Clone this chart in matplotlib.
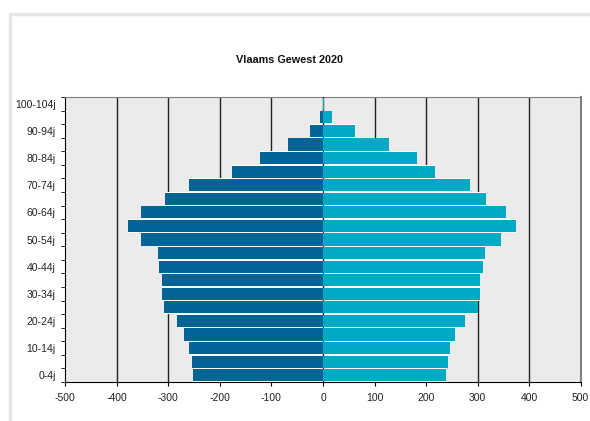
import numpy as np
import matplotlib.pyplot as plt
from matplotlib.patches import Rectangle

plt.rcParams['font.family'] = ['Liberation Sans', 'DejaVu Sans']

age_groups = ['0-4j', '5-9j', '10-14j', '15-19j', '20-24j', '25-29j', '30-34j',
              '35-39j', '40-44j', '45-49j', '50-54j', '55-59j', '60-64j', '65-69j',
              '70-74j', '75-79j', '80-84j', '85-89j', '90-94j', '95-99j', '100-104j']

# in duizendtallen, mannen links (negatief), vrouwen rechts
men = [-252, -254, -260, -270, -283, -308, -312, -312, -318, -320, -353,
       -378, -353, -306, -260, -176, -122, -68, -26, -6, -0.6]
women = [239, 242, 246, 256, 275, 301, 305, 305, 310, 314, 345,
         374, 355, 316, 285, 217, 182, 128, 62, 17.5, 1]

x_ticks = [-500, -400, -300, -200, -100, 0, 100, 200, 300, 400, 500]

fig = plt.figure(figsize=(5.9, 4.21), dpi=100)
fig.patch.set_facecolor('white')

# lichtgrijze kader rond de grafiek
fig.patches.append(Rectangle((9.5 / 590, -0.1), 1.2, (421 - 13.5) / 421 + 0.1,
                             transform=fig.transFigure, fill=False,
                             edgecolor='#E8E6E2', linewidth=2.5, zorder=0))

ax = fig.add_axes([65.3 / 590, 39 / 421, (580.7 - 65.3) / 590, (382 - 97) / 421])
ax.set_facecolor('#EBEBEB')

y = np.arange(len(age_groups))
men_a = np.array(men)
women_a = np.array(women)
# witte achtergrond per rij, zodat de spleten tussen de balken wit zijn
ax.barh(y, women_a - men_a, left=men_a, height=1.0, color='white', linewidth=0, zorder=3)
ax.barh(y, men, height=0.9, color='#006496', linewidth=0, zorder=4)
ax.barh(y, women, height=0.9, color='#00AAC6', linewidth=0, zorder=4)

ax.set_xlim(-500, 500)
ax.set_ylim(-0.5, len(age_groups) - 0.5)
ax.set_xticks(x_ticks)
ax.set_xticklabels([str(v) for v in x_ticks], fontsize=7.5, color='#222222')
for v in x_ticks[1:-1]:
    # nullijn blijft zichtbaar in de spleten tussen de balken
    ax.axvline(v, color='#222222', linewidth=1.0, zorder=3.5 if v == 0 else 2)

ax.set_yticks(y[::2])
ax.set_yticklabels(age_groups[::2], fontsize=7.5, color='#222222')
ax.tick_params(axis='y', which='major', length=0, pad=7)
ax.set_yticks(np.arange(-0.5, len(age_groups), 1), minor=True)
ax.tick_params(axis='y', which='minor', length=3, direction='out', color='black')
ax.tick_params(axis='x', which='major', length=3, direction='out', color='black', pad=5)

ax.spines['left'].set_color('black')
ax.spines['bottom'].set_color('black')
ax.spines['top'].set_color('#808080')
ax.spines['right'].set_color('#808080')
ax.spines['right'].set_linewidth(1.5)

fig.text(289 / 590, 1 - 60 / 421, 'Vlaams Gewest 2020', ha='center', va='center',
         fontsize=7.8, fontweight='bold', color='#111111')

fig.savefig('out.png', dpi=100)
